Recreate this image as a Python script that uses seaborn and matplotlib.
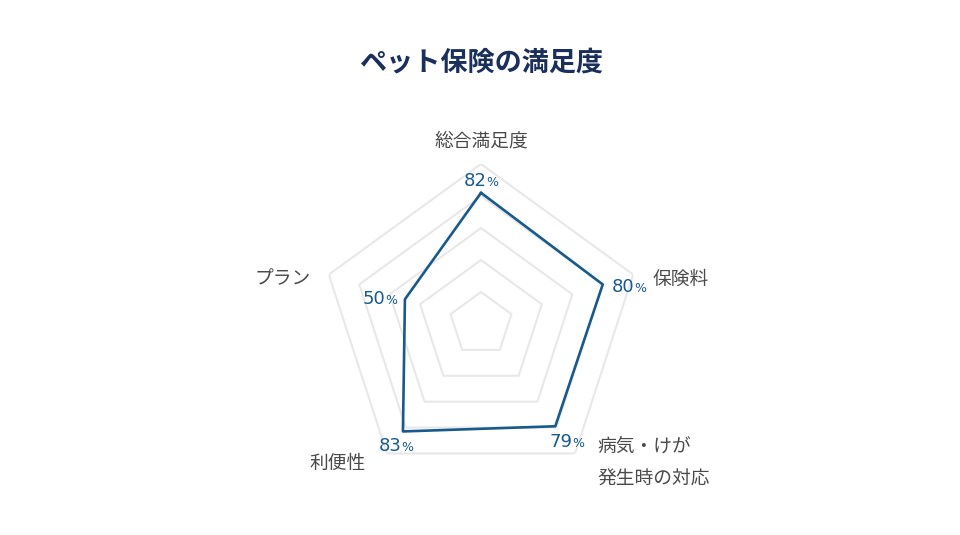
import numpy as np
import pandas as pd
import matplotlib
matplotlib.use("Agg")
import matplotlib.pyplot as plt
import seaborn as sns

# ---- data ----
title = "ペット保険の満足度"
categories = ["総合満足度", "保険料", "病気・けが\n発生時の対応", "利便性", "プラン"]
values = [82, 80, 79, 83, 50]
grid_levels = [20, 40, 60, 80, 100]

sns.set_theme(style="white")
plt.rcParams["font.family"] = ["Noto Sans CJK JP", "DejaVu Sans"]

LINE = "#175a8b"
GRID = "#e8e8e8"
LABEL = "#4a4a4a"
TITLE = "#1b2f5c"

fig = plt.figure(figsize=(9.6, 5.35), dpi=100)
fig.patch.set_facecolor("white")

W, H = 960, 535
cx, cy, R = 481, 324, 160
ax = fig.add_axes([(cx - R) / W, (H - cy - R) / H, 2 * R / W, 2 * R / H],
                  projection="polar")
ax.set_theta_offset(np.pi / 2)
ax.set_theta_direction(-1)

n = len(categories)
theta = np.linspace(0, 2 * np.pi, n, endpoint=False)
theta_closed = np.append(theta, 2 * np.pi)

for lvl in grid_levels:
    ax.plot(theta_closed, [lvl] * (n + 1), color=GRID, lw=1.5, zorder=1)

df = pd.DataFrame({"theta": theta_closed, "value": values + values[:1]})
sns.lineplot(data=df, x="theta", y="value", sort=False, estimator=None, ax=ax,
             color=LINE, lw=1.9, zorder=3)
ax.set_xlabel("")
ax.set_ylabel("")
ax.set_ylim(0, 100)
ax.set_xticks([])
ax.set_yticks([])
ax.grid(False)
ax.spines["polar"].set_visible(False)
ax.set_facecolor("none")

# category labels (offsets in pixels from outer vertex)
cat_pos = [
    ((0, 23), "center", "center"),
    ((19, -5), "left", "center"),
    ((22, -9), "left", "center"),
    ((-21, -10), "right", "center"),
    ((-18, -4), "right", "center"),
]
for t, lab, (off, ha, va) in zip(theta, categories, cat_pos):
    ax.annotate(lab, xy=(t, 100), xytext=off, textcoords="offset pixels",
                ha=ha, va=va, fontsize=13.5, color=LABEL, linespacing=1.75,
                annotation_clip=False)

# value labels
val_off = [(6, 6.6), (32, -7.5), (17, -20.4), (-1, -19.3), (-19.5, -4.7)]
for t, v, off in zip(theta, values, val_off):
    ax.annotate(f"{v}", xy=(t, v), xytext=off, textcoords="offset pixels",
                ha="right", va="baseline", fontsize=13, color=LINE,
                family=["DejaVu Sans"], annotation_clip=False)
    ax.annotate("%", xy=(t, v), xytext=(off[0] - 0.5, off[1]),
                textcoords="offset pixels", ha="left", va="baseline",
                fontsize=9, color=LINE, family=["DejaVu Sans"],
                annotation_clip=False)

fig.text(481 / W, 1 - 62 / H, title, ha="center", va="center",
         fontsize=19.5, fontweight="bold", color=TITLE)

fig.savefig("out.png", dpi=100, facecolor="white")
